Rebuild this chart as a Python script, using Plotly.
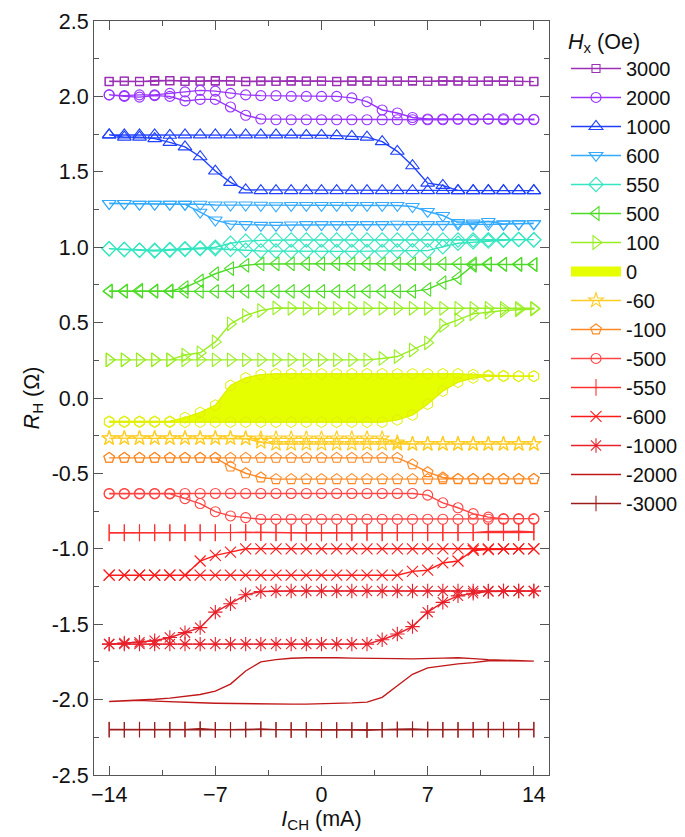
import plotly.graph_objects as go

# Current sweep points (mA)
I_CH = list(range(-14, 15))

# Legend labels (Oe)
fields = ["3000", "2000", "1000", "600", "550", "500", "100", "0",
          "-60", "-100", "-500", "-550", "-600", "-1000", "-2000", "-3000"]

# R_H (Ohm) values for the two sweep branches, listed at I_CH = -14 ... 14
h3000_a = [2.100, 2.100, 2.098, 2.105, 2.103, 2.100, 2.102, 2.105, 2.100, 2.100, 2.102, 2.100, 2.100, 2.102, 2.100,
           2.100, 2.103, 2.100, 2.100, 2.102, 2.100, 2.100, 2.104, 2.100, 2.100, 2.102, 2.100, 2.100, 2.100]
h3000_b = [2.098, 2.102, 2.100, 2.100, 2.105, 2.100, 2.100, 2.100, 2.104, 2.098, 2.100, 2.100, 2.104, 2.100, 2.102,
           2.098, 2.100, 2.103, 2.100, 2.100, 2.105, 2.100, 2.100, 2.104, 2.100, 2.100, 2.103, 2.100, 2.098]

h2000_a = [2.010, 2.005, 2.010, 2.010, 2.020, 2.030, 2.040, 2.035, 2.020, 2.010, 2.005, 2.005, 2.000, 2.000, 2.000,
           2.000, 1.990, 1.965, 1.910, 1.890, 1.860, 1.850, 1.850, 1.850, 1.848, 1.850, 1.852, 1.850, 1.848]
h2000_b = [2.010, 2.000, 1.995, 2.005, 2.000, 1.970, 1.980, 1.980, 1.930, 1.875, 1.850, 1.845, 1.845, 1.845, 1.845,
           1.845, 1.845, 1.845, 1.845, 1.845, 1.845, 1.845, 1.845, 1.848, 1.845, 1.850, 1.845, 1.848, 1.845]

h1000_a = [1.745, 1.745, 1.745, 1.745, 1.742, 1.745, 1.745, 1.745, 1.745, 1.745, 1.745, 1.745, 1.745, 1.742, 1.742,
           1.740, 1.735, 1.730, 1.700, 1.636, 1.540, 1.425, 1.410, 1.375, 1.375, 1.375, 1.375, 1.375, 1.375]
h1000_b = [1.745, 1.730, 1.730, 1.720, 1.695, 1.665, 1.600, 1.505, 1.430, 1.380, 1.375, 1.375, 1.375, 1.375, 1.375,
           1.375, 1.375, 1.375, 1.375, 1.375, 1.375, 1.375, 1.375, 1.375, 1.375, 1.375, 1.375, 1.375, 1.375]

h600_a = [1.290, 1.290, 1.285, 1.285, 1.285, 1.285, 1.285, 1.280, 1.280, 1.280, 1.278, 1.275, 1.277, 1.277, 1.277,
          1.277, 1.277, 1.277, 1.277, 1.277, 1.270, 1.237, 1.210, 1.163, 1.160, 1.170, 1.155, 1.155, 1.157]
h600_b = [1.290, 1.290, 1.285, 1.285, 1.285, 1.284, 1.232, 1.180, 1.153, 1.150, 1.145, 1.145, 1.147, 1.150, 1.150,
          1.150, 1.150, 1.150, 1.150, 1.152, 1.150, 1.150, 1.150, 1.152, 1.152, 1.152, 1.152, 1.155, 1.155]

h550_a = [0.990, 0.985, 0.980, 0.980, 0.985, 0.990, 0.995, 1.000, 1.026, 1.040, 1.045, 1.048, 1.048, 1.048, 1.048,
          1.048, 1.048, 1.048, 1.048, 1.048, 1.048, 1.048, 1.048, 1.048, 1.048, 1.050, 1.050, 1.052, 1.050]
h550_b = [0.990, 0.985, 0.980, 0.975, 0.980, 0.985, 0.990, 0.990, 0.985, 0.980, 0.975, 0.975, 0.972, 0.972, 0.972,
          0.972, 0.972, 0.972, 0.972, 0.975, 0.977, 0.977, 1.003, 1.026, 1.035, 1.040, 1.045, 1.050, 1.048]

h500_a = [0.710, 0.710, 0.715, 0.710, 0.710, 0.732, 0.776, 0.824, 0.858, 0.880, 0.889, 0.890, 0.890, 0.890, 0.890,
          0.890, 0.890, 0.890, 0.890, 0.890, 0.890, 0.890, 0.890, 0.890, 0.890, 0.890, 0.888, 0.888, 0.885]
h500_b = [0.707, 0.707, 0.707, 0.707, 0.707, 0.707, 0.707, 0.707, 0.707, 0.707, 0.707, 0.707, 0.707, 0.707, 0.707,
          0.707, 0.707, 0.707, 0.707, 0.707, 0.707, 0.720, 0.765, 0.797, 0.880, 0.885, 0.885, 0.885, 0.885]

h100_a = [0.253, 0.253, 0.253, 0.253, 0.253, 0.285, 0.300, 0.372, 0.492, 0.547, 0.580, 0.597, 0.595, 0.595, 0.595,
          0.595, 0.595, 0.595, 0.595, 0.595, 0.595, 0.595, 0.595, 0.595, 0.595, 0.595, 0.595, 0.595, 0.595]
h100_b = [0.253, 0.253, 0.253, 0.253, 0.253, 0.253, 0.253, 0.253, 0.253, 0.253, 0.253, 0.253, 0.253, 0.253, 0.253,
          0.253, 0.253, 0.253, 0.262, 0.275, 0.318, 0.366, 0.481, 0.518, 0.558, 0.569, 0.580, 0.585, 0.590]

h0_a = [-0.155, -0.155, -0.155, -0.155, -0.155, -0.130, -0.096, -0.048, 0.083, 0.133, 0.155, 0.160, 0.160, 0.160, 0.160,
        0.160, 0.160, 0.160, 0.160, 0.160, 0.160, 0.160, 0.160, 0.160, 0.155, 0.150, 0.148, 0.145, 0.145]
h0_b = [-0.160, -0.160, -0.160, -0.160, -0.160, -0.160, -0.160, -0.160, -0.160, -0.160, -0.160, -0.160, -0.160, -0.160,
        -0.160, -0.160, -0.160, -0.160, -0.160, -0.145, -0.113, -0.041, 0.046, 0.105, 0.133, 0.144, 0.144, 0.144, 0.144]

h_60_a = [-0.266, -0.266, -0.266, -0.266, -0.266, -0.266, -0.266, -0.266, -0.266, -0.270, -0.292, -0.305, -0.305, -0.305,
          -0.305, -0.305, -0.305, -0.305, -0.305, -0.305, -0.305, -0.305, -0.305, -0.305, -0.305, -0.305, -0.305, -0.305, -0.305]
h_60_b = [-0.268, -0.268, -0.268, -0.268, -0.268, -0.268, -0.268, -0.268, -0.268, -0.268, -0.268, -0.268, -0.268, -0.268,
          -0.268, -0.268, -0.268, -0.268, -0.268, -0.295, -0.305, -0.305, -0.305, -0.305, -0.305, -0.305, -0.305, -0.305, -0.305]

h_100_a = [-0.397, -0.397, -0.397, -0.397, -0.397, -0.397, -0.397, -0.397, -0.397, -0.397, -0.397, -0.397, -0.397, -0.397,
           -0.397, -0.397, -0.397, -0.397, -0.397, -0.397, -0.440, -0.492, -0.527, -0.536, -0.536, -0.536, -0.536, -0.536, -0.536]
h_100_b = [-0.397, -0.397, -0.397, -0.397, -0.397, -0.397, -0.397, -0.397, -0.455, -0.499, -0.527, -0.538, -0.538, -0.538,
           -0.538, -0.538, -0.538, -0.538, -0.538, -0.538, -0.538, -0.538, -0.538, -0.538, -0.538, -0.538, -0.538, -0.538, -0.538]

h_500_a = [-0.633, -0.633, -0.633, -0.633, -0.633, -0.633, -0.633, -0.633, -0.633, -0.633, -0.633, -0.633, -0.633, -0.633,
           -0.633, -0.633, -0.633, -0.633, -0.633, -0.633, -0.633, -0.644, -0.695, -0.728, -0.767, -0.790, -0.800, -0.800, -0.800]
h_500_b = [-0.636, -0.636, -0.636, -0.636, -0.636, -0.667, -0.700, -0.754, -0.782, -0.793, -0.804, -0.804, -0.804, -0.804,
           -0.804, -0.804, -0.804, -0.804, -0.804, -0.804, -0.804, -0.804, -0.804, -0.804, -0.804, -0.804, -0.804, -0.804, -0.804]

h_550_a = [-0.895, -0.895, -0.895, -0.895, -0.895, -0.895, -0.895, -0.895, -0.893, -0.890, -0.892, -0.895, -0.895, -0.895,
           -0.895, -0.895, -0.895, -0.895, -0.895, -0.895, -0.895, -0.895, -0.895, -0.895, -0.893, -0.885, -0.882, -0.884, -0.888]
h_550_b = [-0.893, -0.893, -0.893, -0.893, -0.893, -0.893, -0.893, -0.893, -0.893, -0.893, -0.893, -0.893, -0.893, -0.893,
           -0.893, -0.893, -0.890, -0.888, -0.893, -0.893, -0.893, -0.893, -0.893, -0.893, -0.893, -0.893, -0.893, -0.893, -0.890]

h_600_a = [-1.175, -1.175, -1.175, -1.175, -1.175, -1.175, -1.081, -1.044, -1.022, -1.000, -1.000, -1.000, -1.000, -1.000,
           -1.000, -1.000, -1.000, -1.000, -1.000, -1.000, -1.000, -1.000, -1.000, -1.000, -1.000, -1.000, -1.000, -1.000, -1.000]
h_600_b = [-1.175, -1.175, -1.175, -1.175, -1.175, -1.175, -1.175, -1.175, -1.175, -1.175, -1.175, -1.175, -1.175, -1.175,
           -1.175, -1.175, -1.175, -1.175, -1.175, -1.175, -1.150, -1.142, -1.094, -1.081, -1.011, -1.005, -1.000, -1.000, -1.000]

h_1000_a = [-1.632, -1.625, -1.620, -1.610, -1.588, -1.556, -1.523, -1.420, -1.364, -1.305, -1.283, -1.280, -1.280, -1.280,
            -1.280, -1.280, -1.280, -1.280, -1.280, -1.280, -1.280, -1.280, -1.280, -1.280, -1.280, -1.280, -1.280, -1.280, -1.280]
h_1000_b = [-1.632, -1.632, -1.632, -1.632, -1.632, -1.632, -1.632, -1.632, -1.632, -1.632, -1.632, -1.632, -1.632, -1.632,
            -1.632, -1.632, -1.632, -1.632, -1.603, -1.565, -1.516, -1.420, -1.355, -1.312, -1.295, -1.283, -1.280, -1.280, -1.280]

h_2000_a = [-2.013, -2.008, -2.005, -2.010, -2.015, -2.018, -2.021, -2.024, -2.026, -2.028, -2.030, -2.030, -2.030, -2.030,
            -2.028, -2.026, -2.022, -2.017, -1.985, -1.908, -1.832, -1.790, -1.774, -1.763, -1.755, -1.742, -1.742, -1.745, -1.745]
h_2000_b = [-2.013, -2.008, -2.005, -1.998, -1.990, -1.980, -1.966, -1.944, -1.897, -1.810, -1.750, -1.735, -1.726, -1.722,
            -1.720, -1.722, -1.725, -1.727, -1.728, -1.728, -1.730, -1.728, -1.725, -1.722, -1.728, -1.735, -1.740, -1.743, -1.745]

h_3000_a = [-2.200, -2.200, -2.198, -2.200, -2.200, -2.200, -2.193, -2.200, -2.200, -2.198, -2.195, -2.200, -2.200, -2.200,
            -2.200, -2.205, -2.203, -2.200, -2.200, -2.197, -2.195, -2.200, -2.200, -2.200, -2.200, -2.200, -2.198, -2.200, -2.198]
h_3000_b = [-2.198, -2.200, -2.200, -2.202, -2.200, -2.197, -2.200, -2.202, -2.200, -2.200, -2.198, -2.200, -2.203, -2.200,
            -2.202, -2.200, -2.200, -2.204, -2.200, -2.200, -2.200, -2.197, -2.200, -2.202, -2.200, -2.200, -2.200, -2.200, -2.200]

branches = {
    "3000": (h3000_a, h3000_b), "2000": (h2000_a, h2000_b), "1000": (h1000_a, h1000_b),
    "600": (h600_a, h600_b), "550": (h550_a, h550_b), "500": (h500_a, h500_b),
    "100": (h100_a, h100_b), "0": (h0_a, h0_b), "-60": (h_60_a, h_60_b),
    "-100": (h_100_a, h_100_b), "-500": (h_500_a, h_500_b), "-550": (h_550_a, h_550_b),
    "-600": (h_600_a, h_600_b), "-1000": (h_1000_a, h_1000_b), "-2000": (h_2000_a, h_2000_b),
    "-3000": (h_3000_a, h_3000_b),
}

colors = {
    "3000": "#9b30b5", "2000": "#9933ff", "1000": "#1f40ff", "600": "#33aaff",
    "550": "#33e6c0", "500": "#4ddb26", "100": "#99ee22", "0": "#e6ff00",
    "-60": "#ffcc22", "-100": "#ff8822", "-500": "#ff4444", "-550": "#ff3030",
    "-600": "#ff1a1a", "-1000": "#e8202a", "-2000": "#c01818", "-3000": "#9c1c1c",
}
symbols = {
    "3000": "square-open", "2000": "circle-open", "1000": "triangle-up-open",
    "600": "triangle-down-open", "550": "diamond-open", "500": "triangle-left-open",
    "100": "triangle-right-open", "0": "hexagon-open", "-60": "star-open",
    "-100": "pentagon-open", "-500": "circle-open", "-550": "line-ns-open",
    "-600": "x-thin-open", "-1000": "asterisk-open", "-2000": None, "-3000": "line-ns-open",
}
sizes = {
    "3000": 8, "2000": 10, "1000": 12, "600": 12, "550": 11, "500": 12, "100": 12, "0": 11,
    "-60": 11, "-100": 11, "-500": 10, "-550": 12, "-600": 11, "-1000": 12, "-2000": 6, "-3000": 11,
}

fig = go.Figure()
loop_x = I_CH + I_CH[::-1]

# fill of the 0 Oe loop
a0, b0 = branches["0"]
fig.add_trace(go.Scatter(x=loop_x, y=a0 + b0[::-1], mode="lines", fill="toself",
                         fillcolor=colors["0"], line=dict(color=colors["0"], width=1),
                         legendgroup="0", showlegend=False, hoverinfo="skip"))

for f in fields:
    a, b = branches[f]
    y = a + b[::-1]
    col = colors[f]
    grp = f
    if f == "0":
        fig.add_trace(go.Scatter(x=[None], y=[None], mode="lines",
                                 line=dict(color=col, width=15),
                                 name=f, legendgroup=grp))
        fig.add_trace(go.Scatter(x=loop_x, y=y, mode="lines+markers",
                                 line=dict(color="#e0f000", width=1.2),
                                 marker=dict(symbol=symbols[f], size=sizes[f], color="#e0f000",
                                             line=dict(width=1, color="#e0f000")),
                                 legendgroup=grp, showlegend=False))
        continue
    if symbols[f] is None:
        fig.add_trace(go.Scatter(x=loop_x, y=y, mode="lines", name=f, legendgroup=grp,
                                 line=dict(color=col, width=1.4)))
    else:
        fig.add_trace(go.Scatter(x=loop_x, y=y, mode="lines+markers", name=f, legendgroup=grp,
                                 line=dict(color=col, width=1.4),
                                 marker=dict(symbol=symbols[f], size=sizes[f], color=col,
                                             line=dict(width=1.1, color=col))))

font = "Liberation Sans, Arial, sans-serif"
FS = 21.5
axis_common = dict(showline=True, linecolor="#555555", linewidth=1, mirror="ticks",
                   ticks="inside", ticklen=9, tickcolor="#555555", tickwidth=1,
                   showgrid=False, zeroline=False, ticklabeloverflow="allow",
                   tickfont=dict(family=font, size=FS, color="#111111"))

fig.update_layout(
    width=685, height=837,
    margin=dict(l=94, r=136, t=10, b=62),
    paper_bgcolor="white", plot_bgcolor="white",
    font=dict(family=font, size=FS, color="#111111"),
    xaxis=dict(range=[-15, 15], tickvals=[-14, -7, 0, 7, 14],
               minor=dict(tickvals=[-10.5, -3.5, 3.5, 10.5], ticks="inside", ticklen=5,
                          tickcolor="#555555"),
               title=dict(text="<i>I</i><sub>CH</sub> (mA)", font=dict(family=font, size=FS), standoff=0),
               **axis_common),
    yaxis=dict(range=[-2.5, 2.5], tickvals=[-2.5, -2.0, -1.5, -1.0, -0.5, 0.0, 0.5, 1.0, 1.5, 2.0, 2.5],
               ticktext=["-2.5", "-2.0", "-1.5", "-1.0", "-0.5", "0.0", "0.5", "1.0", "1.5", "2.0", "2.5"],
               minor=dict(tickvals=[-2.25, -1.75, -1.25, -0.75, -0.25, 0.25, 0.75, 1.25, 1.75, 2.25],
                          ticks="inside", ticklen=5, tickcolor="#555555"),
               title=dict(text="<i>R</i><sub>H</sub> (Ω)", font=dict(family=font, size=FS), standoff=6),
               **axis_common),
    legend=dict(xref="container", yref="container", x=566 / 685.0, y=1 - 21 / 837.0,
                xanchor="left", yanchor="top", maxheight=800,
                title=dict(text="<i>H</i><sub>x</sub> (Oe)", font=dict(family=font, size=FS)),
                font=dict(family=font, size=20), itemwidth=50,
                tracegroupgap=0, bgcolor="rgba(0,0,0,0)"),
)

fig.write_html("out.html", post_script="document.body.style.margin='0';",
               config={"displayModeBar": False})
